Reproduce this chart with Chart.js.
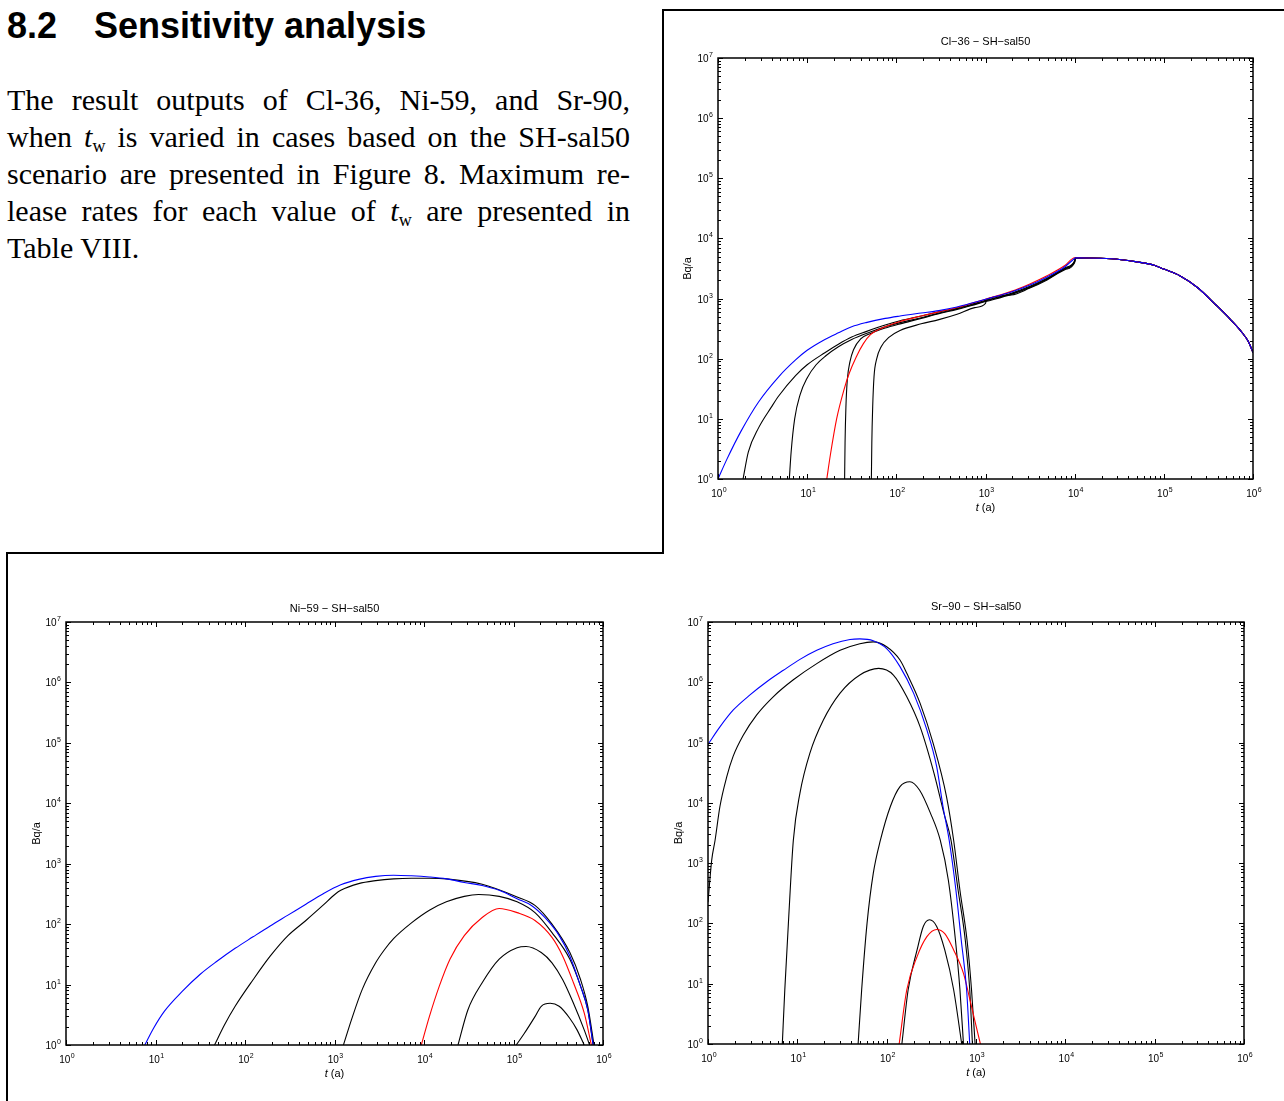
<!DOCTYPE html>
<html>
<head>
<meta charset="utf-8">
<script src="https://cdn.jsdelivr.net/npm/chart.js"></script>
<style>
  html, body { margin: 0; padding: 0; background: #fff; }
  body { width: 1284px; height: 1101px; position: relative; overflow: hidden; color: #000; }
  .hnum, .htxt { position: absolute; top: 8px; font: bold 36px/36px "Liberation Sans", Arial, sans-serif; white-space: pre; }
  .hnum { left: 7px; }
  .htxt { left: 94px; }
  .para { position: absolute; left: 7px; top: 81px; width: 623px; font: 30px/37px "Liberation Serif", "Times New Roman", serif; }
  .para div { text-align: justify; text-align-last: justify; }
  .para div.last { text-align: left; text-align-last: left; }
  .para sub { font-size: 0.6em; line-height: 0; vertical-align: -0.25em; }
  .rule { position: absolute; background: #000; }
  .box { position: absolute; }
</style>
</head>
<body>
<div class="hnum">8.2</div>
<div class="htxt">Sensitivity analysis</div>
<div class="para">
  <div>The result outputs of Cl-36, Ni-59, and Sr-90,</div>
  <div>when <i>t</i><sub>w</sub> is varied in cases based on the SH-sal50</div>
  <div>scenario are presented in Figure 8. Maximum re-</div>
  <div>lease rates for each value of <i>t</i><sub>w</sub> are presented in</div>
  <div class="last">Table VIII.</div>
</div>

<div class="rule" style="left:662px; top:9px; width:2px; height:545px;"></div>
<div class="rule" style="left:662px; top:9px; width:622px; height:2px;"></div>
<div class="rule" style="left:6px; top:552px; width:658px; height:2px;"></div>
<div class="rule" style="left:6px; top:552px; width:2px; height:549px;"></div>

<div class="box" style="left:672px; top:20px; width:596px; height:504px;"><canvas id="clChart"></canvas></div>
<div class="box" style="left:20px; top:590px; width:598px; height:500px;"><canvas id="niChart"></canvas></div>
<div class="box" style="left:662px; top:590px; width:597px; height:500px;"><canvas id="srChart"></canvas></div>

<script>
// tick labels: "10" with a raised exponent
const tickBase = '10';
const tickExps = ['0', '1', '2', '3', '4', '5', '6', '7'];

// Cl-36 - SH-sal50
const clBlueT = [1, 1.26, 1.82, 2.85, 4.79, 7.41, 10, 15.8, 22.4, 31.6, 45.7, 75, 110, 190, 300, 480, 760, 1000, 1950, 3100, 4900, 7760, 10000];
const clBlueV = [1, 2.14, 6.31, 19.1, 50.1, 95.5, 138, 209, 269, 339, 398, 468, 513, 575, 631, 724, 871, 977, 1288, 1660, 2291, 3388, 4677];
const clRedT = [16.6, 18.2, 21.4, 25.7, 29.5, 35.5, 42.7, 51.3, 75, 110, 190, 300, 480, 760, 1000, 1950, 3100, 4900, 7760, 10000];
const clRedV = [1, 2.51, 10, 29.5, 56.2, 107, 178, 251, 339, 417, 513, 603, 708, 871, 977, 1318, 1738, 2399, 3548, 4786];
const clBlack1T = [1.91, 2.19, 2.85, 3.98, 4.79, 7.41, 10, 15.8, 22.4, 31.6, 45.7, 75, 110, 190, 300, 480, 760, 1000, 1950, 3100, 4900, 7760, 10000];
const clBlack1V = [1, 2.82, 7.08, 15.8, 24.0, 52.5, 79.4, 126, 174, 229, 282, 363, 427, 513, 603, 692, 832, 933, 1230, 1585, 2188, 3236, 4266];
const clBlack2T = [6.31, 6.61, 7.24, 8.32, 10, 12.6, 16.2, 22.4, 31.6, 50.1, 75, 110, 190, 300, 480, 760, 1000, 1950, 3100, 4900, 7760, 10000];
const clBlack2V = [1, 2.82, 10, 25.1, 47.9, 79.4, 112, 158, 209, 275, 339, 398, 479, 575, 676, 813, 912, 1202, 1549, 2138, 3162, 4169];
const clBlack3T = [26.3, 26.6, 27.2, 28.2, 30.2, 33.1, 39.8, 51.3, 75, 110, 190, 300, 480, 760, 1000, 1950, 3100, 4900, 7760, 10000];
const clBlack3V = [1, 3.98, 15.8, 44.7, 89.1, 141, 214, 263, 324, 380, 468, 562, 661, 794, 891, 1175, 1514, 2089, 3090, 4074];
const clBlack4T = [52.5, 53.1, 54.3, 56.2, 60.3, 67.6, 83.2, 110, 190, 300, 480, 760, 1000, 1023, 1950, 3100, 4900, 7760, 10000];
const clBlack4V = [1, 3.98, 15.8, 50.1, 100, 158, 229, 295, 380, 447, 550, 708, 832, 955, 1148, 1479, 2042, 3020, 3981];
// common decay after 1e4 years (all six cases overlap)
const clTailT = [10200, 19500, 31600, 50000, 79400, 100000, 151000, 240000, 380000, 560000, 740000, 890000, 1000000];
const clTailV = [4786, 4677, 4467, 4074, 3548, 3090, 2399, 1514, 794, 447, 282, 191, 126];

// Ni-59 - SH-sal50
const niBlueT = [7.59, 9.55, 12.6, 20.0, 31.6, 49.0, 77.6, 123, 191, 302, 479, 741, 1175, 1862, 2884, 4571, 7244, 11482, 17783, 28184, 44668, 69183, 109648, 158489, 223872, 323594, 426580, 562341, 676083, 776247];
const niBlueV = [1, 1.91, 3.63, 7.76, 14.8, 24.5, 39.8, 61.7, 93.3, 141, 214, 316, 447, 550, 617, 646, 631, 603, 562, 490, 437, 363, 263, 204, 129, 64.6, 29.5, 9.33, 3.80, 1];
const niRedT = [9333, 11482, 14791, 19498, 28184, 44668, 69183, 109648, 173780, 269153, 354813, 467735, 616595, 741310];
const niRedV = [1, 2.95, 9.33, 26.3, 64.6, 129, 182, 155, 115, 60.3, 29.5, 10.7, 3.39, 1];
const niBlack1T = [45.7, 58.9, 77.6, 123, 191, 302, 479, 741, 1023, 1175, 1862, 2884, 4571, 7244, 11482, 17783, 44668, 109648, 173780, 269153, 426580, 562341, 676083, 794328];
const niBlack1V = [1, 2.14, 4.37, 12.0, 29.5, 64.6, 115, 204, 316, 363, 468, 525, 562, 575, 575, 562, 457, 282, 204, 100, 33.9, 12.0, 4.37, 1];
const niBlack2T = [1259, 1549, 2042, 2884, 3631, 4571, 7244, 11482, 17783, 28184, 40738, 69183, 109648, 173780, 269153, 426580, 562341, 676083, 776247];
const niBlack2V = [1, 2.63, 8.32, 22.9, 38.0, 57.5, 105, 170, 234, 288, 309, 288, 234, 155, 72.4, 26.3, 9.33, 3.80, 1];
const niBlack3T = [23988, 30903, 44668, 69183, 109648, 138038, 204174, 269153, 354813, 467735, 616595, 707946];
const niBlack3V = [1, 3.80, 10.7, 26.3, 40.7, 42.7, 33.9, 22.9, 12.0, 4.90, 1.78, 1];
const niBlack4T = [107152, 131826, 173780, 204174, 257040, 323594, 426580, 512861, 616595];
const niBlack4V = [1, 1.55, 2.95, 4.37, 4.90, 4.37, 2.75, 1.78, 1];

// Sr-90 - SH-sal50
const srBlueT = [1, 1.36, 1.92, 2.95, 4.54, 6.97, 10.7, 16.5, 25.1, 38.9, 50.1, 70.8, 100, 141, 200, 282, 363, 427, 501, 596, 684, 785, 851];
const srBlueV = [93300, 182000, 347000, 617000, 1020000, 1580000, 2400000, 3390000, 4370000, 5130000, 5250000, 4900000, 3630000, 1820000, 661000, 162000, 39800, 8710, 2400, 355, 52.5, 7.94, 1];
const srRedT = [138, 168, 219, 282, 363, 447, 562, 724, 891, 1120];
const srRedV = [1, 7.94, 28.2, 60.3, 79.4, 67.6, 36.3, 14.8, 4.17, 1];
const srBlackAT = [1, 1.10, 1.20, 1.36, 1.62, 1.91, 2.48, 3.51, 5.37, 9.02, 16.5, 30.1, 50.1, 70.8, 100, 141, 168, 237, 331, 468, 562, 661, 794, 891, 977];
const srBlackAV = [224, 1120, 2400, 8710, 26900, 58900, 132000, 288000, 575000, 1100000, 2040000, 3390000, 4370000, 4680000, 3890000, 2340000, 1410000, 447000, 97700, 12600, 2400, 355, 52.5, 7.94, 1];
const srBlackBT = [6.79, 7.24, 7.94, 9.02, 10.7, 13.8, 19.5, 30.1, 50.1, 81.3, 119, 168, 237, 339, 437, 525, 631, 759, 851, 912];
const srBlackBV = [1, 7.94, 100, 2400, 14500, 66100, 234000, 661000, 1320000, 1700000, 1320000, 575000, 182000, 30900, 6760, 2400, 355, 52.5, 7.94, 1];
const srBlackCT = [47.9, 52.5, 60.3, 70.8, 85.1, 110, 141, 182, 234, 309, 398, 490, 589, 661, 724];
const srBlackCV = [1, 7.94, 100, 676, 2400, 8710, 18600, 22400, 16200, 6760, 2400, 525, 52.5, 7.94, 1];
const srBlackDT = [148, 174, 219, 257, 302, 363, 447, 562, 692];
const srBlackDV = [1, 7.94, 36.3, 89.1, 115, 89.1, 36.3, 7.94, 1];

const BLUE = '#0000ff', RED = '#ff0000', BLACK = '#000000';
const FONT = '"Liberation Sans", Arial, Helvetica, sans-serif';
Chart.defaults.font.family = FONT;

function logTicks(scale) {
  const lo = Math.round(Math.log10(scale.min));
  const hi = Math.round(Math.log10(scale.max));
  const ticks = [];
  for (let k = lo; k <= hi; k++) {
    for (let m = 1; m <= 9; m++) {
      if (k === hi && m > 1) break;
      ticks.push({ value: m * Math.pow(10, k), major: m === 1 });
    }
  }
  scale.ticks = ticks;
}

function decade(value) {
  const e = Math.log10(value);
  const r = Math.round(e);
  return Math.abs(e - r) < 1e-6 ? r : -1;
}

// draws "10" and its exponent
function drawPow(ctx, k, x, baseY, align) {
  ctx.font = '10px ' + FONT;
  const wb = ctx.measureText(tickBase).width;
  ctx.font = '7px ' + FONT;
  const we = ctx.measureText(tickExps[k]).width;
  const total = wb + we + 0.5;
  let x0 = align === 'center' ? x - total / 2 + 1 : x - total;
  ctx.font = '10px ' + FONT;
  ctx.fillText(tickBase, x0, baseY);
  ctx.font = '7px ' + FONT;
  ctx.fillText(tickExps[k], x0 + wb + 0.5, baseY - 5);
}

// inward ticks on all four sides, the box, tick labels and the "t (a)" label
const frameTicks = {
  id: 'frameTicks',
  afterDatasetsDraw(chart) {
    const { ctx, chartArea: a, scales: { x, y } } = chart;
    ctx.save();
    ctx.strokeStyle = '#000';
    ctx.lineWidth = 1;
    ctx.beginPath();
    x.ticks.forEach(tk => {
      const px = Math.round(x.getPixelForValue(tk.value)) + 0.5;
      const len = tk.major ? 5 : 3;
      ctx.moveTo(px, a.bottom); ctx.lineTo(px, a.bottom - len);
      ctx.moveTo(px, a.top); ctx.lineTo(px, a.top + len);
    });
    y.ticks.forEach(tk => {
      const py = Math.round(y.getPixelForValue(tk.value)) + 0.5;
      const len = tk.major ? 5 : 3;
      ctx.moveTo(a.left, py); ctx.lineTo(a.left + len, py);
      ctx.moveTo(a.right, py); ctx.lineTo(a.right - len, py);
    });
    ctx.stroke();
    ctx.lineWidth = 1.5;
    ctx.strokeRect(a.left, a.top, a.right - a.left, a.bottom - a.top);

    ctx.fillStyle = '#000';
    ctx.textBaseline = 'alphabetic';
    ctx.textAlign = 'left';
    x.ticks.forEach(tk => {
      const k = decade(tk.value);
      if (k >= 0) drawPow(ctx, k, x.getPixelForValue(tk.value), a.bottom + 18, 'center');
    });
    y.ticks.forEach(tk => {
      const k = decade(tk.value);
      if (k >= 0) drawPow(ctx, k, a.left - 5, y.getPixelForValue(tk.value) + 4, 'right');
    });

    ctx.textBaseline = 'middle';
    const cx = (a.left + a.right) / 2;
    const ty = a.bottom + 29;
    ctx.font = 'italic 11px ' + FONT;
    const w1 = ctx.measureText('t').width;
    ctx.font = '11px ' + FONT;
    const w2 = ctx.measureText(' (a)').width;
    const x0 = cx - (w1 + w2) / 2;
    ctx.font = 'italic 11px ' + FONT;
    ctx.fillText('t', x0, ty);
    ctx.font = '11px ' + FONT;
    ctx.fillText(' (a)', x0 + w1, ty);
    ctx.restore();
  }
};

function line(t, v, color) {
  return {
    data: t.map((tt, i) => ({ x: tt, y: v[i] })),
    borderColor: color,
    borderWidth: 1.1,
    pointRadius: 0,
    fill: false,
    cubicInterpolationMode: 'monotone'
  };
}

function makeChart(id, title, datasets, g) {
  return new Chart(document.getElementById(id), {
    type: 'line',
    data: { datasets: datasets },
    options: {
      animation: false,
      responsive: true,
      maintainAspectRatio: false,
      layout: { padding: { right: 15 } },
      plugins: {
        legend: { display: false },
        tooltip: { enabled: false },
        title: {
          display: true,
          fullSize: false,
          text: title,
          color: '#000',
          font: { size: 11, weight: 'normal' },
          padding: { top: g.titleTop, bottom: g.titleBottom }
        }
      },
      scales: {
        x: {
          type: 'logarithmic', min: 1, max: 1e6,
          grid: { display: false }, border: { display: false },
          afterBuildTicks: logTicks,
          afterFit: s => { s.height = g.xH; },
          ticks: { display: false, autoSkip: false, maxRotation: 0 }
        },
        y: {
          type: 'logarithmic', min: 1, max: 1e7,
          grid: { display: false }, border: { display: false },
          afterBuildTicks: logTicks,
          afterFit: s => { s.width = g.yW; },
          ticks: { display: false, autoSkip: false },
          title: { display: true, text: 'Bq/a', color: '#000', font: { size: 11 }, padding: { top: g.yTitlePad, bottom: 0 } }
        }
      }
    },
    plugins: [frameTicks]
  });
}

makeChart('clChart', 'Cl−36 − SH−sal50', [
  line(clBlueT.concat(clTailT), clBlueV.concat(clTailV), BLUE),
  line(clRedT.concat(clTailT), clRedV.concat(clTailV), RED),
  line(clBlack1T.concat(clTailT), clBlack1V.concat(clTailV), BLACK),
  line(clBlack2T.concat(clTailT), clBlack2V.concat(clTailV), BLACK),
  line(clBlack3T.concat(clTailT), clBlack3V.concat(clTailV), BLACK),
  line(clBlack4T.concat(clTailT), clBlack4V.concat(clTailV), BLACK)
], { titleTop: 15.4, titleBottom: 9.4, xH: 45, yW: 46, yTitlePad: 9.4 });

makeChart('niChart', 'Ni−59 − SH−sal50', [
  line(niBlueT, niBlueV, BLUE),
  line(niRedT, niRedV, RED),
  line(niBlack1T, niBlack1V, BLACK),
  line(niBlack2T, niBlack2V, BLACK),
  line(niBlack3T, niBlack3V, BLACK),
  line(niBlack4T, niBlack4V, BLACK)
], { titleTop: 12.4, titleBottom: 6.4, xH: 45, yW: 46, yTitlePad: 10.4 });

makeChart('srChart', 'Sr−90 − SH−sal50', [
  line(srBlueT, srBlueV, BLUE),
  line(srRedT, srRedV, RED),
  line(srBlackAT, srBlackAV, BLACK),
  line(srBlackBT, srBlackBV, BLACK),
  line(srBlackCT, srBlackCV, BLACK),
  line(srBlackDT, srBlackDV, BLACK)
], { titleTop: 10.4, titleBottom: 8.4, xH: 46, yW: 46, yTitlePad: 10.4 });
</script>
</body>
</html>
